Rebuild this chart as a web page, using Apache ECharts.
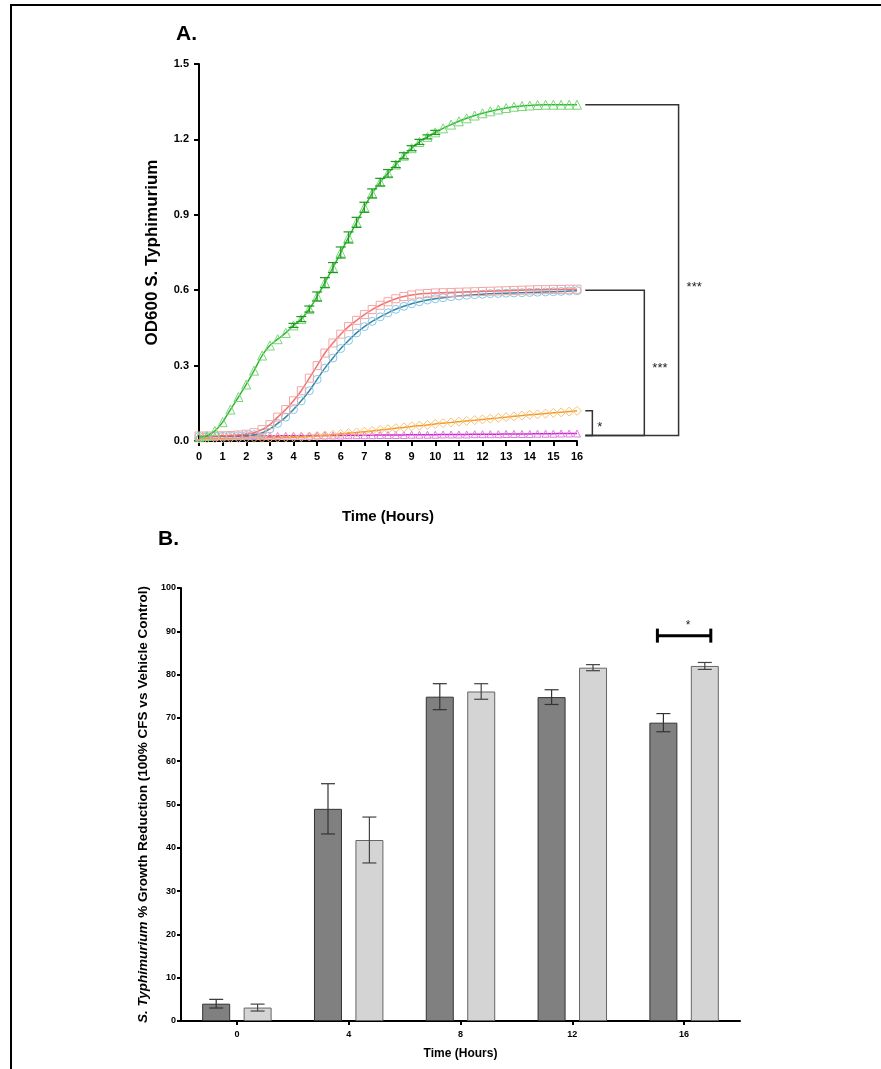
<!DOCTYPE html>
<html><head><meta charset="utf-8">
<script src="https://cdn.jsdelivr.net/npm/echarts@6/dist/echarts.min.js"></script>
<style>html,body{margin:0;padding:0;background:#fff}#c{width:881px;height:1069px}</style>
</head><body><div id="c"></div>
<script>
// ---------- Panel A data (OD600, every 20 min) ----------
const hours = [0,0.33,0.67,1,1.33,1.67,2,2.33,2.67,3,3.33,3.67,4,4.33,4.67,5,5.33,5.67,6,6.33,6.67,7,7.33,7.67,8,8.33,8.67,9,9.33,9.67,10,10.33,10.67,11,11.33,11.67,12,12.33,12.67,13,13.33,13.67,14,14.33,14.67,15,15.33,15.67,16];
const greenOD = [0.015,0.02,0.04,0.075,0.125,0.175,0.225,0.28,0.34,0.38,0.405,0.43,0.46,0.485,0.525,0.575,0.63,0.69,0.75,0.81,0.87,0.93,0.985,1.03,1.065,1.10,1.135,1.165,1.19,1.21,1.228,1.244,1.259,1.272,1.284,1.295,1.304,1.312,1.319,1.325,1.33,1.333,1.335,1.337,1.338,1.338,1.338,1.338,1.338];
const greenErr = [0,0,0,0.004,0.004,0.005,0.005,0.005,0.005,0.005,0.005,0.005,0.008,0.01,0.012,0.018,0.02,0.02,0.022,0.022,0.02,0.02,0.018,0.015,0.015,0.012,0.012,0.01,0.01,0.008,0.008,0.006,0.006,0.005,0.005,0.004,0.004,0.004,0.003,0.003,0.003,0.003,0.003,0.003,0.003,0.003,0.003,0.003,0.003];
const pinkOD = [0.02,0.02,0.02,0.021,0.022,0.024,0.027,0.033,0.045,0.065,0.095,0.125,0.16,0.2,0.25,0.3,0.35,0.39,0.425,0.455,0.48,0.503,0.523,0.54,0.554,0.566,0.575,0.581,0.585,0.587,0.589,0.59,0.591,0.592,0.593,0.594,0.595,0.596,0.597,0.598,0.599,0.6,0.601,0.602,0.602,0.603,0.603,0.604,0.604];
const blueOD = [0.018,0.018,0.019,0.019,0.02,0.021,0.022,0.025,0.032,0.048,0.07,0.095,0.125,0.16,0.2,0.245,0.29,0.33,0.368,0.4,0.43,0.455,0.476,0.494,0.51,0.524,0.536,0.546,0.554,0.561,0.566,0.57,0.574,0.577,0.58,0.582,0.584,0.586,0.587,0.588,0.589,0.59,0.591,0.592,0.593,0.594,0.595,0.597,0.598];
const orangeOD = [0.01,0.01,0.01,0.011,0.011,0.011,0.012,0.012,0.012,0.013,0.013,0.014,0.015,0.016,0.018,0.02,0.022,0.025,0.028,0.031,0.034,0.037,0.04,0.044,0.047,0.051,0.054,0.058,0.061,0.064,0.068,0.071,0.074,0.077,0.08,0.083,0.086,0.089,0.092,0.095,0.098,0.101,0.104,0.106,0.109,0.112,0.114,0.117,0.12];
const magentaOD = [0.018,0.018,0.018,0.019,0.019,0.019,0.02,0.02,0.02,0.02,0.02,0.021,0.021,0.021,0.021,0.022,0.022,0.022,0.022,0.023,0.023,0.023,0.023,0.024,0.024,0.024,0.024,0.025,0.025,0.025,0.025,0.026,0.026,0.026,0.026,0.027,0.027,0.027,0.027,0.028,0.028,0.028,0.028,0.029,0.029,0.029,0.03,0.03,0.03];
// significance brackets (panel A), in data units
const bracketTop = [1.338, 0.600, 0.120];
const bracketArmX = [20.3, 18.85, 16.65];
const bracketStartX = 16.35;
const bracketBase = 0.022;
const bracketLabels = ['***', '***', '*'];
const bracketLabelY = [0.61, 0.29, 0.055];

// ---------- Panel B data ----------
const barTimes = ['0', '4', '8', '12', '16'];
const darkMean = [4.0, 49.0, 74.9, 74.8, 68.9];
const darkErr  = [1.0, 5.8, 3.0, 1.7, 2.1];
const lightMean = [3.1, 41.8, 76.1, 81.6, 82.0];
const lightErr  = [0.8, 5.3, 1.8, 0.7, 0.8];
const sigBarCat = 4, sigBarY = 89, sigLabel = '*';

const FONT = 'Liberation Sans, Arial, sans-serif';
const BAR_W = 28, BAR_OFF = 20.7;

function lineSeries(name, data, lineColor, markColor, symbol, size, z) {
  return {
    type: 'line', name, xAxisIndex: 0, yAxisIndex: 0, z,
    data: hours.map((h, i) => [h, data[i]]),
    smooth: 0.3, symbol, symbolSize: size, showAllSymbol: true,
    lineStyle: { color: lineColor, width: 1.5 },
    itemStyle: { color: 'rgba(0,0,0,0)', borderColor: markColor, borderWidth: 1 },
    emphasis: { disabled: true }
  };
}

function errItem(params, api, color, off, cap, lw) {
  const x = api.value(0), y = api.value(1), e = api.value(2);
  const hi = api.coord([x, y + e]), lo = api.coord([x, y - e]);
  const cx = hi[0] + off;
  const st = { stroke: color, lineWidth: lw };
  return { type: 'group', children: [
    { type: 'line', shape: { x1: cx, y1: hi[1], x2: cx, y2: lo[1] }, style: st },
    { type: 'line', shape: { x1: cx - cap, y1: hi[1], x2: cx + cap, y2: hi[1] }, style: st },
    { type: 'line', shape: { x1: cx - cap, y1: lo[1], x2: cx + cap, y2: lo[1] }, style: st }
  ]};
}

const chart = echarts.init(document.getElementById('c'), null, { renderer: 'canvas' });
const axisLbl = (size) => ({ color: '#000', fontFamily: FONT, fontWeight: 'bold', fontSize: size });

chart.setOption({
  animation: false,
  backgroundColor: '#fff',
  grid: [
    { left: 199, top: 64, width: 378, height: 377 },
    { left: 181, top: 588, width: 559, height: 433 }
  ],
  xAxis: [
    { type: 'value', gridIndex: 0, min: 0, max: 16, interval: 1,
      axisLine: { show: true, lineStyle: { color: '#000', width: 2 } },
      axisTick: { show: true, inside: false, length: 5, lineStyle: { color: '#000', width: 2 } },
      axisLabel: Object.assign(axisLbl(11), { margin: 10 }),
      splitLine: { show: false },
      name: 'Time (Hours)', nameLocation: 'middle', nameGap: 68,
      nameTextStyle: { color: '#000', fontFamily: FONT, fontWeight: 'bold', fontSize: 15 } },
    { type: 'category', gridIndex: 1, data: barTimes,
      axisLine: { show: true, lineStyle: { color: '#000', width: 2 } },
      axisTick: { show: true, alignWithLabel: true, length: 4, lineStyle: { color: '#000', width: 2 } },
      axisLabel: Object.assign(axisLbl(9), { margin: 9 }),
      name: 'Time (Hours)', nameLocation: 'middle', nameGap: 27,
      nameTextStyle: { color: '#000', fontFamily: FONT, fontWeight: 'bold', fontSize: 12 } }
  ],
  yAxis: [
    { type: 'value', gridIndex: 0, min: 0, max: 1.5, interval: 0.3, offset: 4,
      axisLine: { show: true, lineStyle: { color: '#000', width: 2 } },
      axisTick: { show: true, length: 5, lineStyle: { color: '#000', width: 2 } },
      axisLabel: Object.assign(axisLbl(11), { margin: 6, formatter: v => v.toFixed(1) }),
      splitLine: { show: false },
      name: 'OD600 S. Typhimurium', nameLocation: 'middle', nameGap: 34, nameRotate: 90,
      nameTextStyle: { color: '#000', fontFamily: FONT, fontWeight: 'bold', fontSize: 17 } },
    { type: 'value', gridIndex: 1, min: 0, max: 100, interval: 10,
      axisLine: { show: true, lineStyle: { color: '#000', width: 2 } },
      axisTick: { show: true, length: 4, lineStyle: { color: '#000', width: 2 } },
      axisLabel: Object.assign(axisLbl(9), { margin: 5 }),
      splitLine: { show: false },
      name: '{i|S. Typhimurium} % Growth Reduction (100% CFS vs Vehicle Control)',
      nameLocation: 'middle', nameGap: 27, nameRotate: 90,
      nameTextStyle: { color: '#000', fontFamily: FONT, fontWeight: 'bold', fontSize: 13.5,
        rich: { i: { fontStyle: 'italic', fontWeight: 'bold', fontFamily: FONT, fontSize: 13.5, color: '#000' } } } }
  ],
  graphic: [
    { type: 'line', shape: { x1: 10, y1: 5, x2: 881, y2: 5 }, style: { stroke: '#000', lineWidth: 2 } },
    { type: 'line', shape: { x1: 11, y1: 4, x2: 11, y2: 1069 }, style: { stroke: '#000', lineWidth: 2 } },
    { type: 'text', left: 176, top: 24, style: { text: 'A.', fontFamily: FONT, fontWeight: 'bold', fontSize: 21, fill: '#000' } },
    { type: 'text', left: 158, top: 529, style: { text: 'B.', fontFamily: FONT, fontWeight: 'bold', fontSize: 21, fill: '#000' } }
  ],
  series: [
    lineSeries('Magenta', magentaOD, '#cc22cc', '#e27ae2', 'triangle', 7, 2),
    lineSeries('Orange', orangeOD, '#f39a2a', '#f8c27a', 'diamond', 9, 3),
    lineSeries('Blue', blueOD, '#3a86a8', '#86c8e6', 'circle', 8, 4),
    lineSeries('Pink', pinkOD, '#f07272', '#f4a6a6', 'rect', 8, 5),
    lineSeries('Green', greenOD, '#2fb82f', '#78d878', 'triangle', 9, 6),
    { type: 'custom', name: 'Green SD', xAxisIndex: 0, yAxisIndex: 0, z: 7, clip: false,
      data: hours.map((h, i) => [h, greenOD[i], greenErr[i]]).filter(d => d[2] >= 0.008),
      encode: { x: 0, y: 1 },
      renderItem: (p, api) => errItem(p, api, '#1e9a1e', 0, 5, 1.2) },
    { type: 'custom', name: 'Brackets', xAxisIndex: 0, yAxisIndex: 0, z: 8, clip: false, silent: true,
      data: bracketTop.map((t, i) => [bracketArmX[i], t, bracketBase, bracketLabelY[i]]),
      encode: { x: 0, y: 1 },
      renderItem: (p, api) => {
        const arm = api.value(0), top = api.value(1), base = api.value(2), ly = api.value(3);
        const a = api.coord([bracketStartX, top]), b = api.coord([arm, top]);
        const c = api.coord([arm, base]), d = api.coord([bracketStartX, base]);
        const l = api.coord([arm, ly]);
        return { type: 'group', children: [
          { type: 'polyline', shape: { points: [a, b, c, d] }, style: { stroke: '#333', lineWidth: 1.5, fill: null } },
          { type: 'text', x: b[0] + (p.dataIndex === 2 ? 5 : 8), y: l[1],
            style: { text: bracketLabels[p.dataIndex], fontFamily: FONT, fontSize: 13, fill: '#222', verticalAlign: 'middle', align: 'left' } }
        ]};
      } },
    { type: 'bar', name: 'Dark', xAxisIndex: 1, yAxisIndex: 1, data: darkMean, barWidth: BAR_W, barGap: '48%',
      itemStyle: { color: '#808080', borderColor: '#333', borderWidth: 1 } },
    { type: 'bar', name: 'Light', xAxisIndex: 1, yAxisIndex: 1, data: lightMean, barWidth: BAR_W, barGap: '48%',
      itemStyle: { color: '#d4d4d4', borderColor: '#666', borderWidth: 1 } },
    { type: 'custom', name: 'Dark SD', xAxisIndex: 1, yAxisIndex: 1, z: 5,
      data: darkMean.map((m, i) => [i, m, darkErr[i]]), encode: { x: 0, y: 1 },
      renderItem: (p, api) => errItem(p, api, '#333', -BAR_OFF, 7, 1.2) },
    { type: 'custom', name: 'Light SD', xAxisIndex: 1, yAxisIndex: 1, z: 5,
      data: lightMean.map((m, i) => [i, m, lightErr[i]]), encode: { x: 0, y: 1 },
      renderItem: (p, api) => errItem(p, api, '#444', BAR_OFF, 7, 1.2) },
    { type: 'custom', name: 'Sig', xAxisIndex: 1, yAxisIndex: 1, z: 6,
      data: [[sigBarCat, sigBarY]], encode: { x: 0, y: 1 },
      renderItem: (p, api) => {
        const c = api.coord([api.value(0), api.value(1)]);
        const x1 = c[0] - BAR_OFF - 6, x2 = c[0] + BAR_OFF + 6, y = c[1];
        const st = { stroke: '#000', lineWidth: 3 };
        return { type: 'group', children: [
          { type: 'line', shape: { x1, y1: y, x2, y2: y }, style: st },
          { type: 'line', shape: { x1, y1: y - 7, x2: x1, y2: y + 7 }, style: st },
          { type: 'line', shape: { x1: x2, y1: y - 7, x2, y2: y + 7 }, style: st },
          { type: 'text', x: c[0] + 4, y: y - 4, style: { text: sigLabel, fontFamily: FONT, fontSize: 12, fill: '#222', align: 'center', verticalAlign: 'bottom' } }
        ]};
      } }
  ]
});
</script></body></html>
